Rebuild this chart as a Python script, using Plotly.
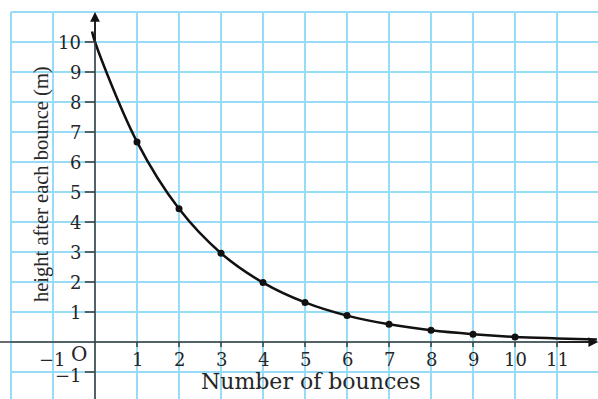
import plotly.graph_objects as go

# ---- data ----
bounces = [0, 1, 2, 3, 4, 5, 6, 7, 8, 9, 10]
heights = [10, 6.67, 4.44, 2.96, 1.98, 1.32, 0.88, 0.59, 0.39, 0.26, 0.17]
# hand-drawn curve extends a little beyond the marked points
curve_x = [-0.07] + bounces + [11, 11.95]
curve_y = [10.35] + heights + [0.12, 0.08]

x_ticks = [1, 2, 3, 4, 5, 6, 7, 8, 9, 10, 11]
y_ticks = [1, 2, 3, 4, 5, 6, 7, 8, 9, 10]
x_grid = list(range(-2, 12))
y_grid = list(range(-1, 12))

x_title = "Number of bounces"
y_title = "height after each bounce (m)"

XR = [-2.262, 11.976]
YR = [-1.9, 11.4]
GRID = "#98dbf7"
AX = "#3a3a3a"
TXT = "#262626"
SERIF_W = "DejaVu Serif"
SERIF = "Liberation Serif"

fig = go.Figure()

shapes = []
for gx in x_grid:
    shapes.append(dict(type="line", xref="x", yref="y", x0=gx, x1=gx, y0=YR[0], y1=11,
                       line=dict(color=GRID, width=2), layer="below"))
for gy in y_grid:
    shapes.append(dict(type="line", xref="x", yref="y", x0=-2, x1=XR[1] + 0.1, y0=gy, y1=gy,
                       line=dict(color=GRID, width=2), layer="below"))
# axis lines
shapes.append(dict(type="line", xref="x", yref="y", x0=XR[0], x1=11.8, y0=0, y1=0,
                   line=dict(color=AX, width=1.5)))
shapes.append(dict(type="line", xref="x", yref="y", x0=0, x1=0, y0=YR[0], y1=10.8,
                   line=dict(color=AX, width=1.5)))
# tick marks
for t in x_ticks:
    shapes.append(dict(type="line", xref="x", yref="y", x0=t, x1=t, y0=0, y1=-0.17,
                       line=dict(color=AX, width=1.5)))
for t in y_ticks + [-1]:
    shapes.append(dict(type="line", xref="x", yref="y", x0=-0.24, x1=0, y0=t, y1=t,
                       line=dict(color=AX, width=1.5)))

fig.add_trace(go.Scatter(x=curve_x, y=curve_y, mode="lines",
                         line=dict(color="#111111", width=2.5, shape="spline", smoothing=1.0),
                         hoverinfo="skip", showlegend=False))
fig.add_trace(go.Scatter(x=bounces[1:], y=heights[1:], mode="markers",
                         marker=dict(color="#111111", size=7),
                         showlegend=False))

annotations = []
# arrowheads
annotations.append(dict(x=0, y=11.0, ax=0, ay=10.0, xref="x", yref="y", axref="x", ayref="y",
                        showarrow=True, arrowhead=2, arrowsize=1.3, arrowwidth=1.5,
                        arrowcolor="#111111", text=""))
annotations.append(dict(x=11.98, y=0, ax=11.0, ay=0, xref="x", yref="y", axref="x", ayref="y",
                        showarrow=True, arrowhead=2, arrowsize=1.3, arrowwidth=1.5,
                        arrowcolor="#111111", text=""))
for t in x_ticks:
    annotations.append(dict(x=t, y=-0.57, xref="x", yref="y", text=str(t), showarrow=False,
                            xanchor="center", yanchor="middle",
                            font=dict(family=SERIF_W, size=18, color=TXT)))
for t in y_ticks:
    annotations.append(dict(x=-0.29, y=t, xref="x", yref="y", text=str(t), showarrow=False,
                            xanchor="right", yanchor="middle",
                            font=dict(family=SERIF_W, size=18, color=TXT)))
annotations.append(dict(x=-1.02, y=-0.57, xref="x", yref="y", text="\u22121", showarrow=False,
                        xanchor="center", yanchor="middle",
                        font=dict(family=SERIF_W, size=18, color=TXT)))
annotations.append(dict(x=-0.27, y=-1.1, xref="x", yref="y", text="\u22121", showarrow=False,
                        xanchor="right", yanchor="middle",
                        font=dict(family=SERIF_W, size=18, color=TXT)))
annotations.append(dict(x=-0.38, y=-0.4, xref="x", yref="y", text="O", showarrow=False,
                        xanchor="center", yanchor="middle",
                        font=dict(family=SERIF_W, size=20, color=TXT)))
annotations.append(dict(x=5.14, y=-1.3, xref="x", yref="y", text=x_title, showarrow=False,
                        xanchor="center", yanchor="middle",
                        font=dict(family=SERIF_W, size=22, color=TXT)))
annotations.append(dict(x=-1.26, y=5.27, xref="x", yref="y", text=y_title, showarrow=False,
                        textangle=-90, xanchor="center", yanchor="middle",
                        font=dict(family=SERIF, size=20.5, color=TXT)))

fig.update_layout(
    width=598, height=399,
    margin=dict(l=0, r=0, t=0, b=0),
    paper_bgcolor="white", plot_bgcolor="white",
    xaxis=dict(range=XR, visible=False, fixedrange=True),
    yaxis=dict(range=YR, visible=False, fixedrange=True),
    shapes=shapes, annotations=annotations,
    showlegend=False,
)

fig.write_html("out.html", config={"displayModeBar": False},
               post_script="document.body.style.margin='0';")
